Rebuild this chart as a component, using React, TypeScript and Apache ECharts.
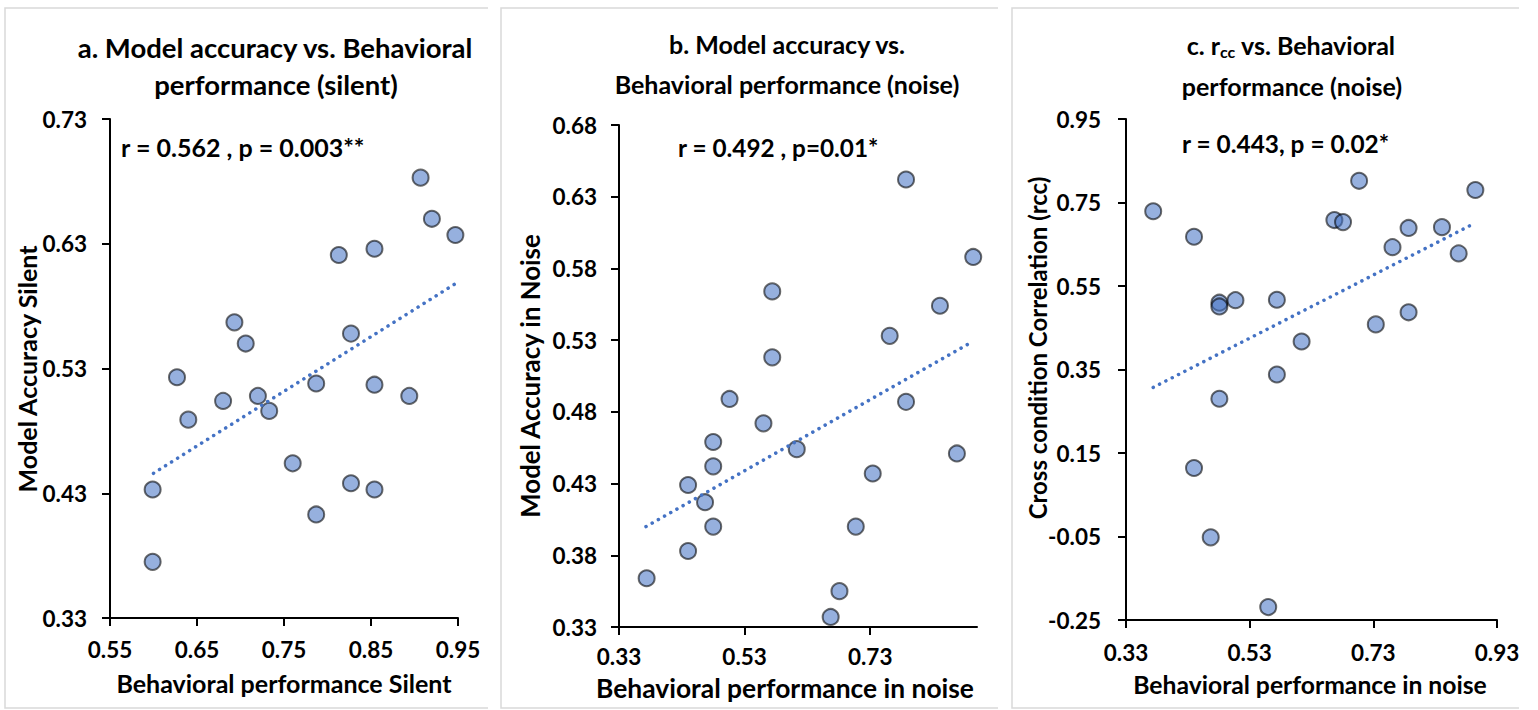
import React, { useEffect, useRef } from "react";
import * as echarts from "echarts";

// Panel a: Model accuracy (silent) vs behavioral performance (silent)
const aX = [0.907, 0.920, 0.947, 0.854, 0.813, 0.693, 0.827, 0.706, 0.627, 0.787, 0.854, 0.680, 0.720, 0.894, 0.733, 0.640, 0.760, 0.827, 0.599, 0.854, 0.787, 0.599];
const aY = [0.683, 0.650, 0.637, 0.626, 0.621, 0.567, 0.558, 0.550, 0.523, 0.518, 0.517, 0.504, 0.508, 0.508, 0.496, 0.489, 0.454, 0.438, 0.433, 0.433, 0.413, 0.375];
const aTrendX = [0.600, 0.947];
const aTrendY = [0.446, 0.598];
const aXTicks = [0.55, 0.65, 0.75, 0.85, 0.95];
const aYTicks = [0.33, 0.43, 0.53, 0.63, 0.73];

// Panel b: Model accuracy (noise) vs behavioral performance (noise)
const bX = [0.787, 0.894, 0.574, 0.841, 0.761, 0.574, 0.787, 0.506, 0.560, 0.480, 0.613, 0.868, 0.480, 0.734, 0.440, 0.467, 0.480, 0.707, 0.440, 0.374, 0.681, 0.667];
const bY = [0.642, 0.588, 0.564, 0.554, 0.533, 0.518, 0.487, 0.489, 0.472, 0.459, 0.454, 0.451, 0.442, 0.437, 0.429, 0.417, 0.400, 0.400, 0.383, 0.364, 0.355, 0.337];
const bTrendX = [0.373, 0.889];
const bTrendY = [0.400, 0.528];
const bXTicks = [0.33, 0.53, 0.73];
const bYTicks = [0.33, 0.38, 0.43, 0.48, 0.53, 0.58, 0.63, 0.68];

// Panel c: cross condition correlation vs behavioral performance (noise)
const cX = [0.707, 0.895, 0.374, 0.667, 0.681, 0.787, 0.841, 0.440, 0.761, 0.868, 0.481, 0.481, 0.507, 0.574, 0.787, 0.734, 0.614, 0.574, 0.481, 0.440, 0.467, 0.560];
const cY = [0.802, 0.780, 0.729, 0.708, 0.703, 0.689, 0.691, 0.668, 0.643, 0.628, 0.510, 0.501, 0.516, 0.517, 0.487, 0.458, 0.417, 0.338, 0.280, 0.114, -0.052, -0.219];
const cTrendX = [0.374, 0.887];
const cTrendY = [0.307, 0.695];
const cXTicks = [0.33, 0.53, 0.73, 0.93];
const cYTicks = [-0.25, -0.05, 0.15, 0.35, 0.55, 0.75, 0.95];

const FONT = "Lato";
const BORDER = "#d9d9d9";
const TICK_SIZE = 22.5;

function zip(xs: number[], ys: number[]) {
  return xs.map((x, i) => [x, ys[i]]);
}

function makeAxis(gridIndex: number, min: number, max: number, ticks: number[], margin: number) {
  return {
    type: "value",
    gridIndex,
    min,
    max,
    splitLine: { show: false },
    axisLine: { show: true, onZero: false, lineStyle: { color: "#000", width: 2 } },
    axisTick: { show: true, inside: false, length: 8, customValues: ticks, lineStyle: { color: "#000", width: 2 } },
    axisLabel: {
      customValues: ticks,
      margin,
      formatter: (v: number) => v.toFixed(2),
      fontFamily: FONT,
      fontWeight: "bold",
      fontSize: TICK_SIZE,
      color: "#000",
    },
  };
}

function scatter(i: number, xs: number[], ys: number[]) {
  return {
    type: "scatter",
    xAxisIndex: i,
    yAxisIndex: i,
    data: zip(xs, ys),
    symbol: "circle",
    symbolSize: 16,
    itemStyle: { color: "rgba(68,114,196,0.7)", borderColor: "rgba(0,0,0,0.72)", borderWidth: 2 },
    z: 2,
  };
}

function trend(i: number, xs: number[], ys: number[]) {
  return {
    type: "line",
    xAxisIndex: i,
    yAxisIndex: i,
    data: zip(xs, ys),
    symbol: "none",
    lineStyle: { color: "#4472C4", width: 3.5, type: [0.1, 7], cap: "round" },
    z: 3,
  };
}

function txt(x: number, y: number, text: string, size: number, opts: any = {}) {
  return {
    type: "text",
    x,
    y,
    rotation: opts.rotation || 0,
    style: {
      text,
      fontFamily: FONT,
      fontWeight: "bold",
      fontSize: size,
      fill: "#000",
      align: opts.align || "center",
      verticalAlign: "middle",
      rich: opts.rich,
    },
  };
}

function frame(x0: number, x1: number) {
  return {
    type: "polyline",
    shape: { points: [[x1, 8], [x0, 8], [x0, 708], [x1, 708]] },
    style: { stroke: BORDER, lineWidth: 1.5, fill: "none" },
  };
}

export default function App() {
  const ref = useRef<HTMLDivElement>(null);
  useEffect(() => {
    if (!ref.current) return;
    const chart = echarts.init(ref.current, null, { renderer: "svg" });
    chart.setOption({
      animation: false,
      backgroundColor: "#fff",
      grid: [
        { left: 110, top: 119, width: 348, height: 499 },
        { left: 619, top: 125, width: 358, height: 502 },
        { left: 1126, top: 119, width: 371, height: 501 },
      ],
      xAxis: [
        makeAxis(0, 0.55, 0.95, aXTicks, 20),
        makeAxis(1, 0.33, 0.90, bXTicks, 18),
        makeAxis(2, 0.33, 0.93, cXTicks, 21),
      ],
      yAxis: [
        makeAxis(0, 0.33, 0.73, aYTicks, 23),
        makeAxis(1, 0.33, 0.68, bYTicks, 22),
        makeAxis(2, -0.25, 0.95, cYTicks, 25),
      ],
      series: [
        scatter(0, aX, aY),
        trend(0, aTrendX, aTrendY),
        scatter(1, bX, bY),
        trend(1, bTrendX, bTrendY),
        scatter(2, cX, cY),
        trend(2, cTrendX, cTrendY),
      ],
      graphic: [
        frame(5, 488),
        frame(501, 998),
        frame(1012, 1519),
        // titles
        txt(275, 47, "a. Model accuracy vs. Behavioral", 27.5),
        txt(276, 84, "performance (silent)", 27.5),
        txt(787, 44, "b. Model accuracy vs.", 25),
        txt(787, 84, "Behavioral performance (noise)", 25),
        txt(1291, 45, "c. r{sub|cc} vs. Behavioral", 25, {
          rich: { sub: { fontFamily: FONT, fontWeight: "bold", fontSize: 16, fill: "#000", padding: [12, 0, 0, 0] } },
        }),
        txt(1292, 86, "performance (noise)", 25),
        // annotations
        txt(121, 147, "r = 0.562 , p = 0.003**", 25, { align: "left" }),
        txt(678, 147, "r = 0.492 , p=0.01*", 24.3, { align: "left" }),
        txt(1182, 143, "r = 0.443, p = 0.02*", 24.4, { align: "left" }),
        // axis titles
        txt(284, 683, "Behavioral performance Silent", 25),
        txt(785, 688, "Behavioral performance in noise", 26.4),
        txt(1310, 684, "Behavioral performance in noise", 24.7),
        txt(27, 369, "Model Accuracy Silent", 25, { rotation: Math.PI / 2 }),
        txt(530, 376, "Model Accuracy in Noise", 25.8, { rotation: Math.PI / 2 }),
        txt(1037, 348, "Cross condition Correlation (rcc)", 24, { rotation: Math.PI / 2 }),
      ],
    });
    return () => chart.dispose();
  }, []);
  return (
    <div
      ref={ref}
      style={{ position: "fixed", left: 0, top: 0, width: 1538, height: 710, background: "#fff" }}
    />
  );
}
